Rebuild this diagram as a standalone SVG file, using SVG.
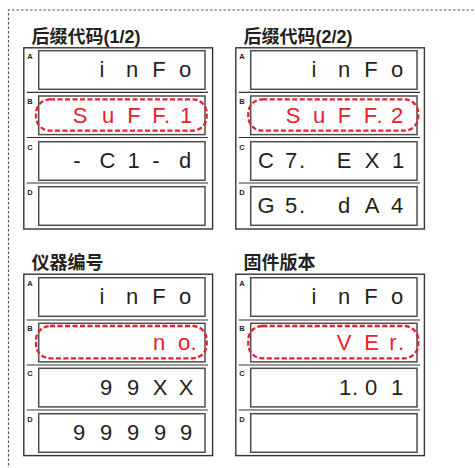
<svg xmlns="http://www.w3.org/2000/svg" width="475" height="468" viewBox="0 0 475 468">
<style>
.frame{fill:none;stroke:#555;stroke-width:1.2;stroke-dasharray:2.5 2}
.panel{fill:#fff;stroke:#333;stroke-width:1.4}
.box{fill:#fff;stroke:#4d4d4d;stroke-width:1.5}
.sep{stroke:#333;stroke-width:1.2}
.title{font-family:"Liberation Sans","Noto Sans CJK SC",sans-serif;font-weight:bold;font-size:18px;fill:#231f20}
.lbl{font-family:"Liberation Sans",sans-serif;font-weight:bold;font-size:7.5px;fill:#231f20}
.dig{font-family:"Liberation Sans",sans-serif;font-size:22px;fill:#231f20;text-anchor:middle}
.red{fill:#e8202a}
.hl{fill:none;stroke:#e8202a;stroke-width:2.3;stroke-dasharray:5 2.5}
</style>
<path class="frame" d="M8.5 470 V10 H476"/>

<g id="panel-suffix-1">
<text class="title" x="31.5" y="43">后缀代码(1/2)</text>
<rect class="panel" x="23.8" y="47.8" width="188.8" height="181.2"/>
<line class="sep" x1="26.7" y1="92.3" x2="208" y2="92.3"/>
<line class="sep" x1="26.7" y1="137.5" x2="208" y2="137.5"/>
<line class="sep" x1="26.7" y1="183" x2="208" y2="183"/>
<rect class="box" x="38.7" y="50.7" width="166.3" height="38.6"/>
<rect class="box" x="38.7" y="96" width="166.3" height="38.6"/>
<rect class="box" x="38.7" y="141.7" width="166.3" height="38.6"/>
<rect class="box" x="38.7" y="186.7" width="166.3" height="38.6"/>
<text class="lbl" x="27.3" y="58.7">A</text>
<text class="lbl" x="27.3" y="104">B</text>
<text class="lbl" x="27.3" y="149.7">C</text>
<text class="lbl" x="27.3" y="194.7">D</text>
<text class="dig" x="102 132 159 185" y="77.3">inFo</text>
<text class="dig red" x="80 108 134 159 167 186" y="122.6">SuFF.1</text>
<text class="dig" x="77 107.5 133.5 156 185" y="168">-C1-d</text>
<rect class="hl" x="36" y="99.3" width="170.7" height="31.4" rx="14" ry="14"/>
</g>

<g id="panel-suffix-2">
<text class="title" x="243.5" y="43">后缀代码(2/2)</text>
<rect class="panel" x="235.8" y="47.8" width="188.6" height="181.2"/>
<line class="sep" x1="238.7" y1="92.3" x2="420" y2="92.3"/>
<line class="sep" x1="238.7" y1="137.5" x2="420" y2="137.5"/>
<line class="sep" x1="238.7" y1="183" x2="420" y2="183"/>
<rect class="box" x="250.7" y="50.7" width="166.3" height="38.6"/>
<rect class="box" x="250.7" y="96" width="166.3" height="38.6"/>
<rect class="box" x="250.7" y="141.7" width="166.3" height="38.6"/>
<rect class="box" x="250.7" y="186.7" width="166.3" height="38.6"/>
<text class="lbl" x="239.3" y="58.7">A</text>
<text class="lbl" x="239.3" y="104">B</text>
<text class="lbl" x="239.3" y="149.7">C</text>
<text class="lbl" x="239.3" y="194.7">D</text>
<text class="dig" x="314 344 371 397" y="77.3">inFo</text>
<text class="dig red" x="293 319 344.5 370.5 379.5 397" y="122.6">SuFF.2</text>
<text class="dig" x="266 291 302 344 372 398" y="168">C7.EX1</text>
<text class="dig" x="266 291 302 344 372 397" y="213">G5.dA4</text>
<rect class="hl" x="248.3" y="99.3" width="170" height="31.4" rx="14" ry="14"/>
</g>

<g id="panel-serial">
<text class="title" x="31.5" y="269">仪器编号</text>
<rect class="panel" x="23.8" y="274.2" width="188.8" height="181.4"/>
<line class="sep" x1="26.7" y1="320" x2="208" y2="320"/>
<line class="sep" x1="26.7" y1="365" x2="208" y2="365"/>
<line class="sep" x1="26.7" y1="410" x2="208" y2="410"/>
<rect class="box" x="38.7" y="277.7" width="166.3" height="38.6"/>
<rect class="box" x="38.7" y="323.3" width="166.3" height="38.6"/>
<rect class="box" x="38.7" y="368.3" width="166.3" height="38.6"/>
<rect class="box" x="38.7" y="413.7" width="166.3" height="38.6"/>
<text class="lbl" x="27.3" y="285.7">A</text>
<text class="lbl" x="27.3" y="331.3">B</text>
<text class="lbl" x="27.3" y="376.3">C</text>
<text class="lbl" x="27.3" y="421.7">D</text>
<text class="dig" x="102 132 159 185" y="304.3">inFo</text>
<text class="dig red" x="159 184 193.5" y="349.8">no.</text>
<text class="dig" x="106 133 160 186" y="394.8">99XX</text>
<text class="dig" x="79 106 133 160 186" y="440.2">99999</text>
<rect class="hl" x="36" y="326" width="170.7" height="32.3" rx="14" ry="14"/>
</g>

<g id="panel-firmware">
<text class="title" x="243.5" y="269">固件版本</text>
<rect class="panel" x="235.8" y="274.2" width="188.6" height="181.4"/>
<line class="sep" x1="238.7" y1="320" x2="420" y2="320"/>
<line class="sep" x1="238.7" y1="365" x2="420" y2="365"/>
<line class="sep" x1="238.7" y1="410" x2="420" y2="410"/>
<rect class="box" x="250.7" y="277.7" width="166.3" height="38.6"/>
<rect class="box" x="250.7" y="323.3" width="166.3" height="38.6"/>
<rect class="box" x="250.7" y="368.3" width="166.3" height="38.6"/>
<rect class="box" x="250.7" y="413.7" width="166.3" height="38.6"/>
<text class="lbl" x="239.3" y="285.7">A</text>
<text class="lbl" x="239.3" y="331.3">B</text>
<text class="lbl" x="239.3" y="376.3">C</text>
<text class="lbl" x="239.3" y="421.7">D</text>
<text class="dig" x="314 344 371 397" y="304.3">inFo</text>
<text class="dig red" x="344 371.5 393 401" y="349.8">VEr.</text>
<text class="dig" x="345 355 371 397" y="394.8">1.01</text>
<rect class="hl" x="248.3" y="326" width="170" height="32.3" rx="14" ry="14"/>
</g>
</svg>
